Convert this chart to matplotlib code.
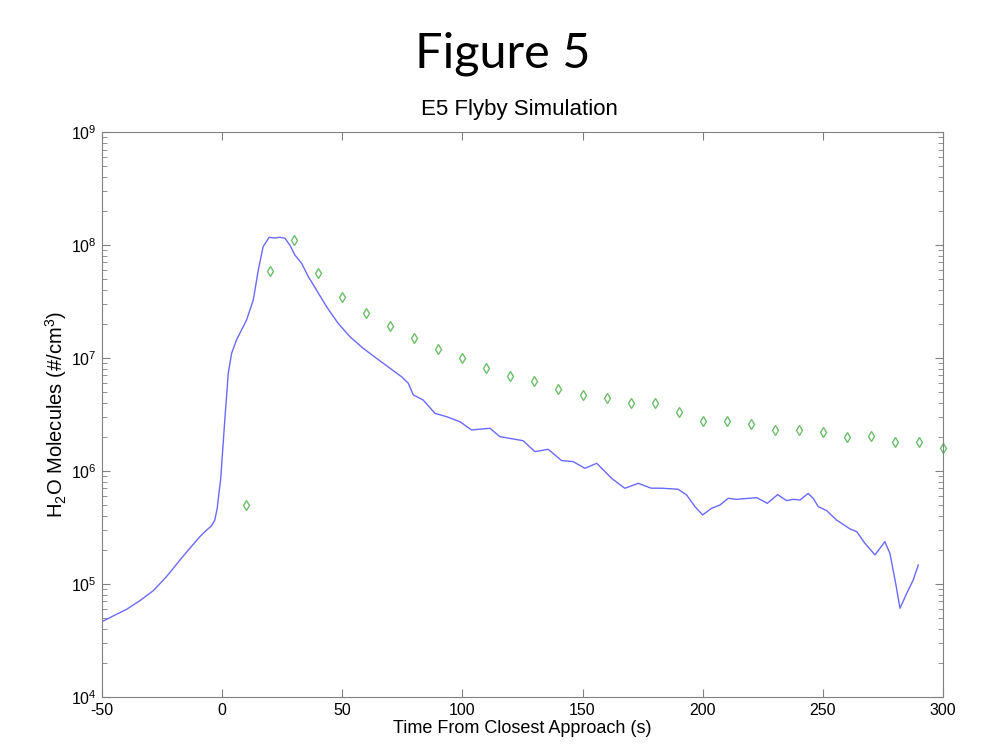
import numpy as np
import matplotlib
matplotlib.use("Agg")
import matplotlib.pyplot as plt
from matplotlib.ticker import LogLocator, NullFormatter, MultipleLocator

plt.rcParams['font.family'] = ['Liberation Sans', 'DejaVu Sans']
plt.rcParams['mathtext.fontset'] = 'custom'
plt.rcParams['mathtext.rm'] = 'Liberation Sans'
plt.rcParams['mathtext.it'] = 'Liberation Sans'
plt.rcParams['mathtext.default'] = 'regular'
plt.rcParams['axes.unicode_minus'] = False

# Simulation curve (time s, log10 density)
sim_t = [-50, -45.3, -39.7, -34.2, -28.6, -23.1, -17.5, -13.4, -9.2, -6.4, -4.4, -3.0, -2.0,
         -1.3, -0.6, 0.5, 1.2, 2.6, 4.0, 6.0, 10.2, 13.0, 15.1, 17.1, 19.6, 22.0, 24.1, 26.2,
         28.2, 30.3, 33.1, 35.9, 39.3, 43.5, 48.3, 53.2, 58.7, 64.3, 69.9, 74.7, 77.5,
         79.6, 83.7, 88.6, 93.4, 99.0, 103.8, 111.5, 115.6, 121.2, 125.3, 130.2,
         135.7, 141.3, 146.1, 151.0, 155.9, 162.1, 167.6, 173.2, 178.5, 183.6, 189.8, 193.3,
         196.8, 200.0, 203.7, 207.2, 210.6, 214.1, 222.5, 226.9, 231.2, 234.9, 237.7, 240.5,
         243.9, 246.0, 248.1, 251.6, 255.7, 261.3, 264.1, 267.5, 271.7, 275.8, 277.9, 280.3,
         282.1, 284.9, 287.6, 289.7]
sim_log = [4.666, 4.717, 4.776, 4.852, 4.941, 5.065, 5.212, 5.316, 5.419, 5.478, 5.513, 5.566,
           5.670, 5.802, 5.920, 6.25, 6.466, 6.865, 7.042, 7.159, 7.336, 7.513, 7.779, 7.985,
           8.068, 8.062, 8.068, 8.059, 8.0, 7.912, 7.838, 7.720, 7.602, 7.454, 7.307, 7.189,
           7.086, 6.997, 6.909, 6.834, 6.776,
           6.673, 6.628, 6.510, 6.481, 6.436, 6.363, 6.378, 6.304, 6.283, 6.268, 6.171,
           6.192, 6.092, 6.083, 6.024, 6.068, 5.935, 5.847, 5.891, 5.848, 5.847, 5.838, 5.788,
           5.684, 5.611, 5.670, 5.699, 5.758, 5.749, 5.764, 5.714, 5.791, 5.738, 5.749, 5.743,
           5.802, 5.758, 5.684, 5.649, 5.566, 5.487, 5.463, 5.360, 5.257, 5.375, 5.272, 5.006,
           4.785, 4.917, 5.035, 5.168]

# Measured points
obs_t = [10, 20, 30, 40, 50, 60, 70, 80, 90, 100, 110, 120, 130, 140, 150, 160, 170, 180,
         190, 200, 210, 220, 230, 240, 250, 260, 270, 280, 290, 300]
obs_n = [5.0e5, 5.9e7, 1.10e8, 5.6e7, 3.5e7, 2.5e7, 1.9e7, 1.49e7, 1.21e7, 1.0e7, 8.2e6,
         6.97e6, 6.2e6, 5.3e6, 4.7e6, 4.4e6, 4.0e6, 4.0e6, 3.3e6, 2.79e6, 2.79e6, 2.6e6,
         2.32e6, 2.32e6, 2.2e6, 2.0e6, 2.05e6, 1.79e6, 1.79e6, 1.59e6]

fig = plt.figure(figsize=(9.89, 7.53), dpi=100)
ax = fig.add_axes([0.103, 0.0744, 0.8505, 0.7503])

ax.semilogy(sim_t, 10 ** np.array(sim_log), color='#6a6aff', lw=1.0)
ax.semilogy(obs_t, obs_n, 'd', ms=5, mfc='none', mec='#6cbf6c', mew=1.0, clip_on=False)

ax.set_xlim(-50, 300)
ax.set_ylim(1e4, 1e9)
ax.xaxis.set_major_locator(MultipleLocator(50))
ax.yaxis.set_major_locator(LogLocator(base=10, numticks=10))
ax.yaxis.set_minor_locator(LogLocator(base=10, subs=np.arange(2, 10), numticks=20))
ax.yaxis.set_minor_formatter(NullFormatter())
ax.tick_params(which='both', direction='in', top=True, right=True, colors='#808080',
               labelcolor='black', labelsize=11.5)
ax.tick_params(which='major', length=6)
ax.tick_params(which='minor', length=3.5)
ax.tick_params(axis='y', pad=4)
ax.tick_params(axis='x', pad=4.5)
for s in ax.spines.values():
    s.set_color('#808080')

ax.set_xlabel('Time From Closest Approach (s)', fontsize=13, labelpad=1)
ax.set_ylabel('H$_2$O Molecules (#/cm$^3$)', fontsize=14.5, labelpad=1)

fig.text(0.525, 1 - 115 / 753, 'E5 Flyby Simulation', ha='center', va='baseline',
         fontsize=16)
fig.text(0.508, 1 - 67 / 753, 'Figure 5', ha='center', va='baseline', fontsize=35,
         family=['Lato', 'DejaVu Sans'])

fig.savefig('out.png', dpi=100)
